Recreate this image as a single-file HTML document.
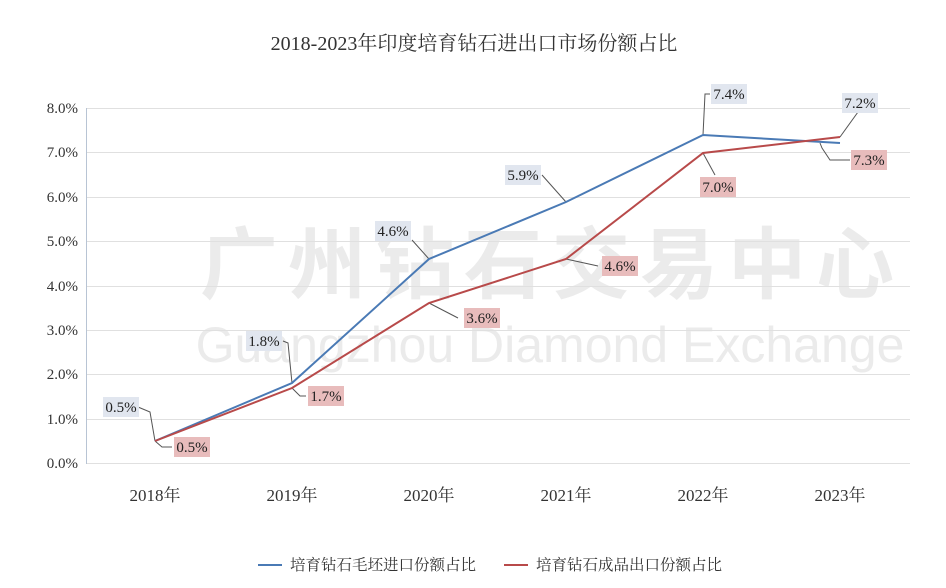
<!DOCTYPE html><html><head><meta charset="utf-8"><style>body{margin:0;background:#fff}svg{display:block}</style></head><body>
<svg width="946" height="588" xmlns="http://www.w3.org/2000/svg" font-family="Liberation Serif, Noto Serif CJK SC, serif">
<rect width="946" height="588" fill="#fff"/>
<text x="474" y="50" text-anchor="middle" font-size="20" fill="#333">2018-2023年印度培育钻石进出口市场份额占比</text>
<text x="552" y="292" text-anchor="middle" font-size="78" fill="#ebebeb" font-family="Noto Sans CJK SC, sans-serif" font-weight="bold" letter-spacing="10">广州钻石交易中心</text>
<text x="550" y="362" text-anchor="middle" font-size="50" fill="#ebebeb" font-family="Liberation Sans, sans-serif">Guangzhou Diamond Exchange</text>
<g stroke="#e0e0e0" stroke-width="1">
<line x1="86" y1="108.5" x2="910" y2="108.5"/><line x1="86" y1="152.5" x2="910" y2="152.5"/><line x1="86" y1="197.5" x2="910" y2="197.5"/><line x1="86" y1="241.5" x2="910" y2="241.5"/><line x1="86" y1="286.5" x2="910" y2="286.5"/><line x1="86" y1="330.5" x2="910" y2="330.5"/><line x1="86" y1="374.5" x2="910" y2="374.5"/><line x1="86" y1="419.5" x2="910" y2="419.5"/><line x1="86" y1="463.5" x2="910" y2="463.5"/>
</g>
<line x1="86.5" y1="108" x2="86.5" y2="464" stroke="#b8c4d4"/>
<g font-size="15" fill="#333" text-anchor="end">
<text x="78" y="113">8.0%</text><text x="78" y="157">7.0%</text><text x="78" y="202">6.0%</text><text x="78" y="246">5.0%</text><text x="78" y="291">4.0%</text><text x="78" y="335">3.0%</text><text x="78" y="379">2.0%</text><text x="78" y="424">1.0%</text><text x="78" y="468">0.0%</text>
</g>
<g font-size="17" fill="#333" text-anchor="middle">
<text x="155" y="501">2018年</text><text x="292" y="501">2019年</text><text x="429" y="501">2020年</text><text x="566" y="501">2021年</text><text x="703" y="501">2022年</text><text x="840" y="501">2023年</text>
</g>
<g stroke="#555" stroke-width="1" fill="none">
<polyline points="138,407 150,412 155,441"/><polyline points="155,441 162,447 172,447"/>
<polyline points="283,341 288,343 292,383"/><polyline points="292,388 300,396 306,396"/>
<polyline points="820,143 822,148 830,160 850,160" /><polyline points="840,137 858,112"/>
<polyline points="703,135 705,94 710,94"/><polyline points="703,153 715,175"/>
<polyline points="429,303 458,318"/><polyline points="566,259 598,266"/><polyline points="542,175 566,202"/><polyline points="412,240 429,259"/>
</g>
<polyline points="155,441 292,383 429,259 566,202 703,135 840,143" fill="none" stroke="#4a7ab5" stroke-width="2"/>
<polyline points="155,441 292,388 429,303 566,259 703,153 840,137" fill="none" stroke="#b84a4a" stroke-width="2"/>
<g font-size="15" fill="#222" text-anchor="middle">
<rect x="103" y="397" width="36" height="20" fill="#e1e6ef"/><text x="121" y="412">0.5%</text>
<rect x="174" y="437" width="36" height="20" fill="#e8bcbc"/><text x="192" y="452">0.5%</text>
<rect x="246" y="331" width="36" height="20" fill="#e1e6ef"/><text x="264" y="346">1.8%</text>
<rect x="308" y="386" width="36" height="20" fill="#e8bcbc"/><text x="326" y="401">1.7%</text>
<rect x="375" y="221" width="36" height="20" fill="#e1e6ef"/><text x="393" y="236">4.6%</text>
<rect x="464" y="308" width="36" height="20" fill="#e8bcbc"/><text x="482" y="323">3.6%</text>
<rect x="505" y="165" width="36" height="20" fill="#e1e6ef"/><text x="523" y="180">5.9%</text>
<rect x="602" y="256" width="36" height="20" fill="#e8bcbc"/><text x="620" y="271">4.6%</text>
<rect x="711" y="84" width="36" height="20" fill="#e1e6ef"/><text x="729" y="99">7.4%</text>
<rect x="700" y="177" width="36" height="20" fill="#e8bcbc"/><text x="718" y="192">7.0%</text>
<rect x="842" y="93" width="36" height="20" fill="#e1e6ef"/><text x="860" y="108">7.2%</text>
<rect x="851" y="150" width="36" height="20" fill="#e8bcbc"/><text x="869" y="165">7.3%</text>
</g>
<line x1="258" y1="565" x2="282" y2="565" stroke="#4a7ab5" stroke-width="2"/>
<text x="290" y="570" font-size="15.5" fill="#333">培育钻石毛坯进口份额占比</text>
<line x1="504" y1="565" x2="528" y2="565" stroke="#b84a4a" stroke-width="2"/>
<text x="536" y="570" font-size="15.5" fill="#333">培育钻石成品出口份额占比</text>
</svg>
</body></html>
